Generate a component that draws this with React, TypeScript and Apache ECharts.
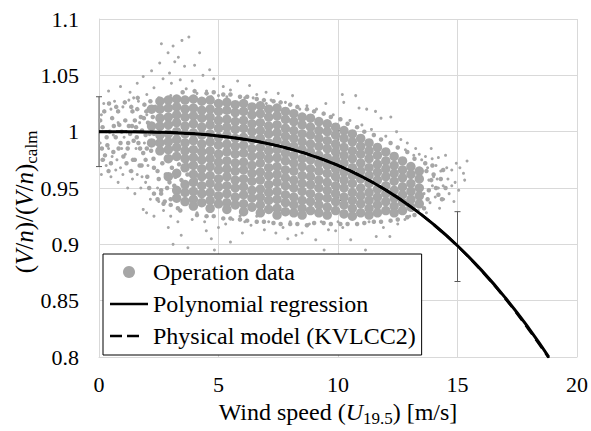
import React, { useEffect, useRef } from "react";
import * as echarts from "echarts";

const FONT = "Liberation Serif, Times New Roman, serif";

// axes
const xMin = 0, xMax = 20, xStep = 5;
const yMin = 0.8, yMax = 1.1, yStep = 0.05;

// polynomial regression curve
const regressionX = [0, 1, 2, 3, 4, 5, 6, 7, 8, 9, 10, 11, 12, 13, 14, 15, 16, 17, 18, 18.82];
const regressionY = [1, 0.99997, 0.99976, 0.99919, 0.99808, 0.99625, 0.99352, 0.98971, 0.98464, 0.97813, 0.97, 0.96007, 0.94816, 0.93409, 0.91768, 0.89875, 0.87712, 0.85261, 0.82504, 0.8];

// physical model (KVLCC2)
const modelX = [0, 1, 2, 3, 4, 5, 6, 7, 8, 9, 10, 11, 12, 13, 14, 15, 16, 17, 18, 18.82];
const modelY = [1, 0.99997, 0.99976, 0.99919, 0.99808, 0.99625, 0.99352, 0.98971, 0.98464, 0.97813, 0.97, 0.96007, 0.94816, 0.93409, 0.9176, 0.8985, 0.8766, 0.8518, 0.8238, 0.799];

// error bars
const errorX = [0, 5, 10, 15];
const errorLow = [0.969, 0.965, 0.939, 0.867];
const errorHigh = [1.031, 1.027, 1.001, 0.929];

// operation data — dense mass, as columns [x, [y...]]
const denseColumns: [number, number[]][] = [
[2.2, [1.02,1.005,.99]],
[2.55, [1.027,1.02,1.012,1.005,.997,.99,.983]],
[2.9, [1.028,1.021,1.013,1.006,.998,.991,.984,.976,.96]],
[3.25, [1.029,1.022,1.015,1.008,1.0,.993,.986,.978,.963,.948,.941]],
[3.6, [1.028,1.02,1.013,1.005,.998,.99,.983,.976,.968,.953,.946,.938]],
[3.95, [1.029,1.021,1.014,1.007,.999,.992,.984,.977,.97,.962,.955,.947,.94,.934]],
[4.3, [1.027,1.019,1.012,1.004,.997,.989,.982,.975,.967,.96,.952,.945,.937]],
[4.65, [1.028,1.02,1.013,1.006,.998,.991,.983,.976,.969,.961,.954,.946,.939,.932]],
[5.0, [1.025,1.018,1.01,1.003,.995,.988,.98,.973,.966,.958,.951,.943,.936]],
[5.35, [1.026,1.019,1.011,1.004,.997,.989,.982,.974,.967,.96,.952,.945,.937,.931]],
[5.7, [1.024,1.017,1.009,1.002,.994,.987,.98,.972,.965,.957,.95,.942,.935]],
[6.05, [1.025,1.018,1.01,1.003,.995,.988,.981,.973,.966,.958,.951,.944,.936,.929]],
[6.4, [1.022,1.015,1.007,1.0,.993,.985,.978,.97,.963,.956,.948,.941,.933]],
[6.75, [1.023,1.016,1.008,1.001,.994,.986,.979,.972,.964,.957,.949,.942,.935,.928]],
[7.1, [1.02,1.013,1.005,.998,.99,.983,.976,.968,.961,.953,.946,.939,.931]],
[7.45, [1.021,1.014,1.006,.999,.992,.984,.977,.969,.962,.955,.947,.94,.932,.926]],
[7.8, [1.018,1.011,1.003,.996,.989,.981,.974,.966,.959,.952,.944,.937,.929]],
[8.15, [1.016,1.009,1.001,.994,.987,.979,.972,.965,.957,.95,.942,.935,.928]],
[8.5, [1.013,1.006,.998,.991,.984,.976,.969,.961,.954,.947,.939,.932,.926]],
[8.85, [1.012,1.004,.997,.989,.982,.975,.967,.96,.953,.945,.938,.93]],
[9.2, [1.009,1.001,.994,.987,.979,.972,.965,.957,.95,.942,.935,.928]],
[9.55, [1.007,1.0,.992,.985,.977,.97,.963,.955,.948,.941,.933,.926]],
[9.9, [1.004,.997,.989,.982,.975,.967,.96,.952,.945,.938,.93]],
[10.25, [1.001,.994,.986,.979,.972,.964,.957,.95,.942,.935,.927]],
[10.6, [.998,.991,.983,.976,.968,.961,.954,.946,.939,.932,.925]],
[10.95, [.994,.987,.98,.972,.965,.958,.95,.943,.936,.928]],
[11.3, [.99,.983,.976,.968,.961,.954,.946,.939,.932,.926]],
[11.65, [.986,.979,.971,.964,.957,.949,.942,.935,.928]],
[12.0, [.982,.974,.967,.96,.952,.945,.938,.93]],
[12.35, [.978,.97,.963,.956,.948,.941,.934,.928]],
[12.7, [.974,.966,.959,.951,.944,.937,.93]],
[13.05, [.969,.962,.954,.947,.94,.933]],
[13.4, [.965,.958,.95,.943,.936]]
];

// operation data — medium-density regions
const scatterMedium: number[][] = [
[0.15,1.004],[0.35,.988],[0.55,1.012],[0.7,.995],[0.85,1.006],[0.25,.979],[0.6,.982],[0.9,.99],[0.45,1.0],[0.8,1.018],
[1.1,1.01],[1.2,.985],[1.3,.998],[1.4,1.018],[1.5,.975],[1.55,1.004],[1.65,.99],[1.75,1.013],[1.85,.981],[1.95,.997],[1.15,.972],[1.35,1.022],[1.45,.992],[1.6,1.02],[1.7,.97],[1.8,1.001],[1.9,1.024],[1.25,1.005],[1.5,1.01],[1.95,.975],
[0.05,1.01],[0.12,.985],[0.22,1.018],[0.32,.995],[0.42,1.025],[0.5,.972],[0.62,1.005],[0.72,1.022],[0.82,.985],[0.95,1.0],[1.02,.978],[1.08,1.026],[1.22,.99],[1.38,1.005],[1.42,.975],[1.58,.995],[1.62,1.03],[1.72,.985],[1.88,1.012],[2.0,.985],[2.08,1.02],[2.12,.998],[1.35,.965],[1.78,.97],[2.02,.96],[0.4,.965],[0.15,.975],
[2.15,1.027],[2.25,1.013],[2.3,.998],[2.18,.983],[2.28,.976],[2.05,1.008],[2.35,1.022],[1.98,1.018],[2.4,.99],
[2.1,.95],[2.3,.945],[2.45,.94],[2.7,.936],[3.0,.935],[2.6,.948],
[2.3,.968],[2.5,.958],[2.65,.972],[2.8,.962],[2.95,.955],[3.05,.968],[3.2,.96],[3.35,.971],[3.45,.957],[3.55,.966],[3.7,.962],[3.8,.97],[3.15,.952],[2.45,.965],[2.85,.95],[3.65,.972],[3.9,.962],[4.05,.957],[2.6,.945],[3.0,.94],[3.3,.932],[2.75,.938],
[13.7,.965],[13.8,.948],[13.9,.957],[13.75,.94],[14.0,.962],[14.1,.95],[14.2,.944],[13.65,.972],[13.95,.97],[14.3,.958],[14.4,.966],[14.5,.95],[13.6,.932],[14.35,.94],
[3.5,1.035],[4.0,1.036],[4.5,1.034],[5.2,1.033],[5.9,1.031],[6.6,1.029],[7.3,1.027],[8.0,1.024],[8.7,1.02],[9.4,1.016],[10.1,1.011],[10.8,1.004],[11.5,.997],[12.2,.99],[12.9,.982],
[4.8,1.035],[5.5,1.033],[6.2,1.031],[6.9,1.028],[7.6,1.026],[8.3,1.022],[9.0,1.018],[9.7,1.013],[10.4,1.007],[11.1,1.0],[11.8,.993],[12.5,.986],[13.2,.976],
[3.4,.93],[4.1,.926],[4.8,.925],[5.5,.923],[6.2,.921],[6.9,.92],[7.6,.918],[8.3,.918],[9.0,.919],[9.7,.918],[10.4,.918],[11.1,.919],[11.8,.92],[12.5,.922],[13.2,.926],
[4.5,.925],[5.2,.923],[5.9,.922],[6.6,.92],[7.3,.919],[8.0,.918],[8.7,.917],[9.4,.919],[10.1,.918],[10.8,.918],[11.5,.92],[12.2,.921],[12.9,.924]
];

// operation data — sparse points and outliers
const scatterSparse: number[][] = [
[2.61,1.078],[3.47,1.081],[3.76,1.084],[3.1,1.076],[2.89,1.07],[4.21,1.07],[2.54,1.061],[3.17,1.062],[4.0,1.059],[4.63,1.055],[3.32,1.066],[3.58,1.058],[2.95,1.052],[4.35,1.05],[2.2,1.054],[1.85,1.049],[2.68,1.047],[3.03,1.043],[3.4,1.046],[3.9,1.045],[4.8,1.047],[5.8,1.045],[6.3,1.041],[6.99,1.035],[5.2,1.04],[1.6,1.043],[0.9,1.04],[2.3,1.039],[3.65,1.038],[4.5,1.036],[5.5,1.037],[6.6,1.033],[7.5,1.034],[8.1,1.032],[0.4,1.036],[1.3,1.035],[2.0,1.033],[4.1,1.034],[5.0,1.032],[6.1,1.03],[7.2,1.028],[7.8,1.026],[8.7,1.023],[9.49,1.025],[10.18,1.033],[10.74,1.032],[10.24,1.026],[10.88,1.021],[11.2,1.02],[11.57,1.018],[11.8,1.012],[12.21,1.013],[12.63,.993],[12.45,1.0],[9.1,1.02],[9.8,1.015],[10.5,1.01],[11.0,1.006],[11.4,1.002],[12.0,.996],[12.9,.99],[8.4,1.02],[7.0,1.025],[6.45,1.03],[5.35,1.031],[4.7,1.031],[3.0,1.032],[2.5,1.03],
[12.82,.984],[13.17,.979],[13.66,.978],[13.94,.976],[14.2,.977],[14.5,.979],[14.76,.966],[15.4,.974],[15.25,.963],[15.3,.957],[14.76,.952],[14.42,.94],[14.07,.942],[14.2,.95],[14.65,.945],[13.85,.937],[13.36,.93],[14.0,.96],[14.3,.965],[14.1,.97],[13.5,.975],[14.6,.958],[14.9,.955],[15.05,.948],[14.85,.938],[14.4,.952],[13.75,.968],[13.4,.98],[13.1,.93],[13.7,.928],[14.25,.932],[15.1,.968],[14.95,.972],[13.9,.985],[13.25,.985],[14.55,.968],[13.95,.952],[14.15,.958],[13.6,.945],[13.8,.957],
[1.85,.931],[1.99,.928],[2.3,.925],[3.44,.908],[4.42,.92],[4.49,.912],[5.0,.915],[5.3,.918],[6.36,.917],[6.92,.913],[7.4,.91],[3.72,.897],[4.83,.895],[8.24,.908],[8.5,.91],[9.07,.904],[9.42,.895],[9.9,.912],[10.53,.904],[11.15,.895],[11.6,.907],[12.17,.907],[10.2,.915],[11.9,.915],[12.5,.918],[12.8,.922],[13.0,.925],[2.7,.93],[3.0,.925],[3.3,.92],[3.9,.922],[4.1,.928],[5.6,.922],[5.9,.925],[6.1,.92],[6.6,.925],[7.1,.92],[7.7,.915],[8.0,.92],[8.8,.918],[9.3,.92],[9.6,.913],[10.0,.92],[10.8,.918],[11.3,.92],[2.5,.938],[1.5,.945],[1.2,.95],[0.8,.955],[0.5,.96],[0.1,.962],[0.3,.97],[0.7,.966],[1.0,.962],[1.4,.958],[2.9,.915],[4.7,.905],[6.0,.91],[7.9,.905],[5.5,.902],[3.1,.9],
[0.05,.99],[0.1,1.015],[0.2,1.025],[0.3,1.0],[0.4,.985],[0.5,1.02],[0.6,.997],[0.65,1.027],[0.75,.975],[0.8,1.008],[0.95,.985],[1.0,1.022],[1.05,.995],[1.1,.98],[1.25,1.028],[1.3,.965],[1.45,1.03],[1.55,.985],[1.65,1.027],[1.7,1.008],[1.8,.96],[1.9,.99],[2.0,1.015],[2.05,.97],[0.2,.975],[0.55,.978],[0.9,.968],[1.15,1.0],[1.6,.962],[1.75,.95],[1.95,.955],[2.15,.94],[2.45,.95]
];

const legendNames = ["Operation data", "Polynomial regression", "Physical model (KVLCC2)"];

export default function App() {
  const ref = useRef<HTMLDivElement>(null);
  useEffect(() => {
    const chart = echarts.init(ref.current!, null, { renderer: "svg" });
    const grey = "#a6a6a6";
    const gridColor = "#d9d9d9";
    const densePoints: number[][] = [];
    denseColumns.forEach(([x, ys]) => ys.forEach((y) => densePoints.push([x, y])));
    chart.setOption({
      animation: false,
      backgroundColor: "#ffffff",
      textStyle: { fontFamily: FONT },
      grid: { left: 99, right: 12, top: 19, bottom: 74 },
      xAxis: {
        type: "value", min: xMin, max: xMax, interval: xStep,
        axisLine: { show: true, lineStyle: { color: gridColor, width: 1 } },
        axisTick: { show: false },
        splitLine: { show: true, lineStyle: { color: gridColor, width: 1 } },
        axisLabel: { fontFamily: FONT, fontSize: 22, color: "#000", margin: 16 },
      },
      yAxis: {
        type: "value", min: yMin, max: yMax, interval: yStep,
        axisLine: { show: true, lineStyle: { color: gridColor, width: 1 } },
        axisTick: { show: false },
        splitLine: { show: true, lineStyle: { color: gridColor, width: 1 } },
        axisLabel: {
          fontFamily: FONT, fontSize: 22, color: "#000", margin: 20,
          formatter: (v: number) => String(parseFloat(v.toFixed(2))),
        },
      },
      legend: {
        data: [
          { name: legendNames[0], icon: "circle" },
          { name: legendNames[1], icon: "path://M0,0H38V2.5H0Z" },
          { name: legendNames[2], icon: "path://M0,0H12V2.5H0ZM17,0H29V2.5H17ZM38,0L38,2.5Z" },
        ],
        orient: "vertical",
        left: 103, top: 254,
        backgroundColor: "#ffffff",
        borderColor: "#000000", borderWidth: 1, borderRadius: 0,
        padding: [6, 6, 7, 7],
        itemGap: 8,
        itemWidth: 38, itemHeight: 12,
        textStyle: { fontFamily: FONT, fontSize: 24, color: "#000" },
        selectedMode: false,
      },
      graphic: [
        {
          type: "text",
          x: 338, y: 412,
          z: 10,
          style: {
            text: "{n|Wind speed (}{i|U}{s|19.5}{n|) [m/s]}",
            align: "center", verticalAlign: "middle",
            textAlign: "center", textVerticalAlign: "middle",
            fill: "#000",
            rich: {
              n: { fontFamily: FONT, fontSize: 24, fill: "#000" },
              i: { fontFamily: FONT, fontSize: 24, fontStyle: "italic", fill: "#000" },
              s: { fontFamily: FONT, fontSize: 17, fill: "#000", padding: [12, 0, 0, 0] },
            },
          },
        },
        {
          type: "text",
          x: 24, y: 202,
          rotation: Math.PI / 2,
          z: 10,
          style: {
            text: "{n|(}{i|V}{n|/}{i|n}{n|)/(}{i|V}{n|/}{i|n}{n|)}{s|calm}",
            align: "center", verticalAlign: "middle",
            textAlign: "center", textVerticalAlign: "middle",
            fill: "#000",
            rich: {
              n: { fontFamily: FONT, fontSize: 25, fill: "#000" },
              i: { fontFamily: FONT, fontSize: 25, fontStyle: "italic", fill: "#000" },
              s: { fontFamily: FONT, fontSize: 17, fill: "#000", padding: [14, 0, 0, 0] },
            },
          },
        },
      ],
      series: [
        {
          name: "Operation data", type: "scatter", symbol: "circle", symbolSize: 9.5,
          data: densePoints, itemStyle: { color: grey, opacity: 1 }, silent: true,
        },
        {
          name: "Operation data", type: "scatter", symbol: "circle", symbolSize: 4.5,
          data: scatterMedium, itemStyle: { color: grey, opacity: 1 }, silent: true,
        },
        {
          name: "Operation data", type: "scatter", symbol: "circle", symbolSize: 3,
          data: scatterSparse, itemStyle: { color: grey, opacity: 1 }, silent: true,
        },
        {
          name: "Error", type: "custom", clip: false, silent: true,
          data: errorX.map((x, i) => [x, errorLow[i], errorHigh[i]]),
          encode: { x: 0, y: [1, 2] },
          renderItem: (_params: any, api: any) => {
            const x = api.value(0);
            const lo = api.coord([x, api.value(1)]);
            const hi = api.coord([x, api.value(2)]);
            const st = { stroke: "#595959", lineWidth: 1 };
            return {
              type: "group",
              children: [
                { type: "line", shape: { x1: lo[0], y1: lo[1], x2: hi[0], y2: hi[1] }, style: st },
                { type: "line", shape: { x1: lo[0] - 3, y1: lo[1], x2: lo[0] + 3, y2: lo[1] }, style: st },
                { type: "line", shape: { x1: hi[0] - 3, y1: hi[1], x2: hi[0] + 3, y2: hi[1] }, style: st },
              ],
            };
          },
        },
        {
          name: "Physical model (KVLCC2)", type: "line", symbol: "none", smooth: true,
          data: modelX.map((x, i) => [x, modelY[i]]),
          lineStyle: { color: "#000", width: 2.5, type: [11, 6] },
          itemStyle: { color: "#000" },
        },
        {
          name: "Polynomial regression", type: "line", symbol: "none", smooth: true,
          data: regressionX.map((x, i) => [x, regressionY[i]]),
          lineStyle: { color: "#000", width: 3 },
          itemStyle: { color: "#000" },
        },
      ],
    });
    return () => chart.dispose();
  }, []);
  return <div ref={ref} style={{ position: "fixed", left: 0, top: 0, width: 591, height: 431 }} />;
}
